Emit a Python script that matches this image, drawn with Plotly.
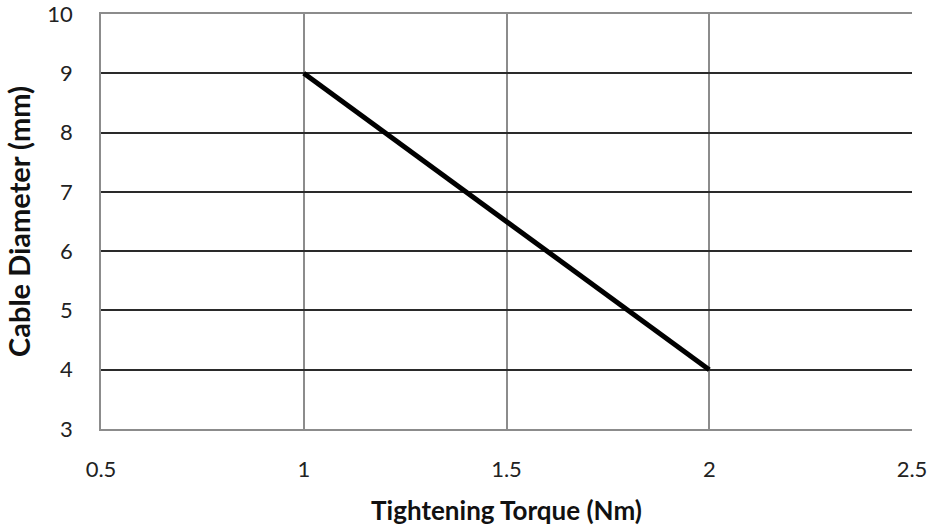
import plotly.graph_objects as go

torque = [1, 2]
diameter = [9, 4]
x_ticks = [0.5, 1, 1.5, 2, 2.5]
y_ticks = [3, 4, 5, 6, 7, 8, 9, 10]

fig = go.Figure()
fig.add_trace(go.Scatter(x=torque, y=diameter, mode="lines",
                         line=dict(color="black", width=5), showlegend=False))

fig.update_layout(
    width=932, height=526,
    margin=dict(l=101, r=20, t=14, b=97, autoexpand=False),
    paper_bgcolor="white", plot_bgcolor="white",
    font=dict(family="Lato", size=22, color="#222"),
    xaxis=dict(range=[0.5, 2.5], tickvals=x_ticks, ticktext=[str(v) for v in x_ticks],
               showgrid=True, gridcolor="#8c8c8c", gridwidth=1.5,
               showline=True, linecolor="#8c8c8c", linewidth=1.5, mirror=True,
               zeroline=False, ticks="", ticklabelstandoff=20, automargin=False,
               ticklabeloverflow="allow",
               title=dict(text="<b>Tightening Torque (Nm)</b>", font=dict(size=26, color="#111"), standoff=22)),
    yaxis=dict(range=[3, 10], tickvals=y_ticks,
               showgrid=True, gridcolor="#2a2a2a", gridwidth=1.8,
               showline=True, linecolor="#8c8c8c", linewidth=1.5,
               zeroline=False, ticks="", ticklabelstandoff=22, automargin=False,
               ticklabeloverflow="allow",
               title=dict(text="<b>Cable Diameter (mm)</b>", font=dict(size=29, color="#111"), standoff=8)),
)
fig.write_html("out.html", config={"displayModeBar": False},
               post_script="document.body.style.margin='0px';document.body.style.padding='0px';")
